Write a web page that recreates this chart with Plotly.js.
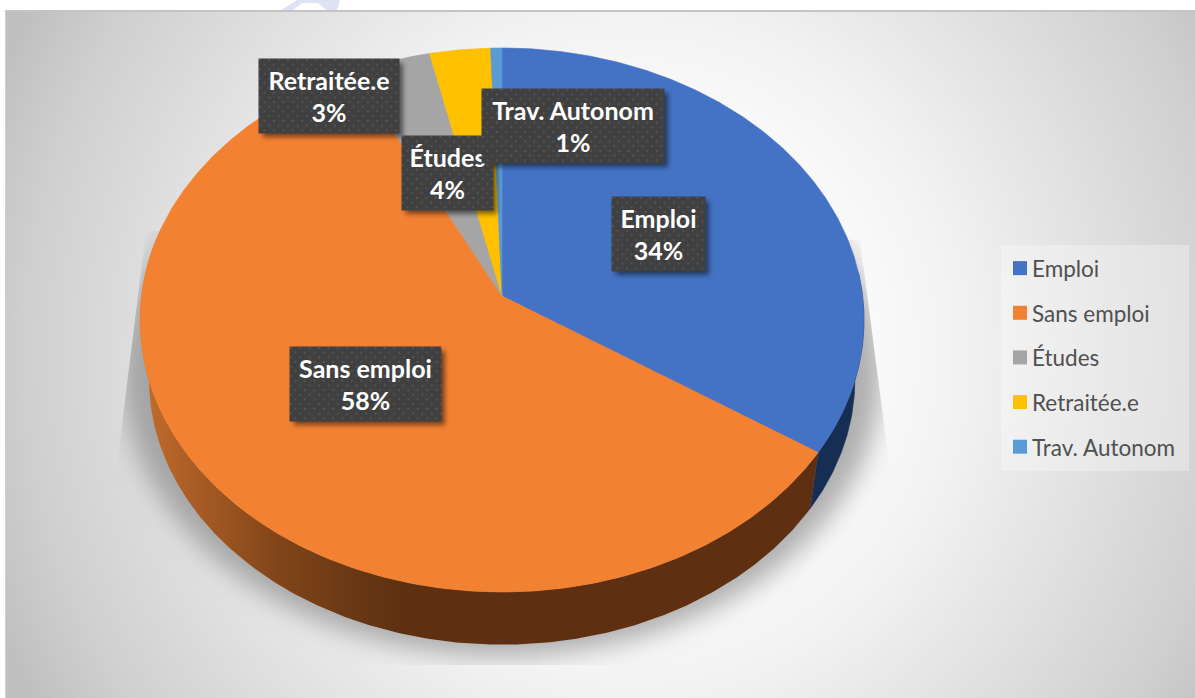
<!DOCTYPE html>
<html>
<head>
<meta charset="utf-8">
<script src="https://cdn.plot.ly/plotly-3.0.1.min.js"></script>
<style>
html,body{margin:0;padding:0;width:1195px;height:698px;background:#fff;overflow:hidden}
#bg{position:absolute;left:5px;top:10px;width:1190px;height:688px;box-sizing:border-box;border-top:2px solid #c4c4c4;border-left:1px solid #cfcfcf;
background:radial-gradient(ellipse 690px 710px at 625px 340px,#fff 0%,#fff 26%,#f2f2f2 48%,#dfdfdf 70%,#cfcfcf 88%,#bfbfbf 100%)}
#chart{position:absolute;left:0;top:0;width:1195px;height:698px}
</style>
</head>
<body>
<div id="bg"></div>
<div id="chart"></div>
<script>
// Data
const categories = ['Emploi', 'Sans emploi', 'Études', 'Retraitée.e', 'Trav. Autonom'];
const shares = [34.3, 58.4, 3.8, 2.95, 0.55];
const sliceColors = ['#4472C4', '#F38132', '#A5A5A5', '#FFC000', '#5B9BD5'];

// Label boxes in chart pixels: left, top, right, bottom
const boxLeft   = [612, 290, 402, 259, 482];
const boxTop    = [197, 347, 136, 59, 89];
const boxRight  = [705, 441, 493, 399, 664];
const boxBottom = [271, 421, 210, 133, 163];

// Projection of the tilted disc
const apexX = 502, apexY = 296, scaleU = 360.6, scaleV = 269.9, persp = 0.0882;
const wallDrop = 60, wallShrink = 0.975;
const W = 1195, H = 698;

function project(deg, bottom) {
  const t = deg * Math.PI / 180, u = Math.sin(t), v = Math.cos(t), w = 1 + persp * v;
  const x = scaleU * u / w, y = -scaleV * v / w;
  return bottom ? [apexX + wallShrink * x, apexY + wallDrop + wallShrink * y] : [apexX + x, apexY + y];
}
function arc(a, b, bottom) {
  const pts = [], n = Math.max(2, Math.ceil(Math.abs(b - a) * 2));
  for (let i = 0; i <= n; i++) pts.push(project(a + (b - a) * i / n, bottom));
  return pts;
}
function polyTrace(pts, extra) {
  return Object.assign({
    type: 'scatter', mode: 'lines', x: pts.map(p => p[0]), y: pts.map(p => p[1]),
    fill: 'toself', showlegend: false, hoverinfo: 'skip', line: {width: 0}
  }, extra);
}

const total = shares.reduce((a, b) => a + b, 0);
const edges = [0];
shares.forEach(s => edges.push(edges[edges.length - 1] + s / total * 360));

const traces = [];
// side wall: blue part, then orange part
traces.push(polyTrace(arc(85, edges[1], false).concat(arc(edges[1], 85, true)), {fillcolor: '#172E54', line: {width: 0.5, color: '#172E54'}}));
traces.push(polyTrace(arc(edges[1], 285, false).concat(arc(285, edges[1], true)), {
  fillcolor: '#5E3011',
  fillgradient: {type: 'horizontal', start: 141, stop: 820, colorscale: [
    [0, '#C26C2C'], [0.09, '#A65A24'], [0.2, '#824519'], [0.3, '#6B3915'], [0.39, '#5E3011'], [1, '#5E3011']
  ]}
}));
// top faces
shares.forEach((s, i) => {
  const pts = [[apexX, apexY]].concat(arc(edges[i], edges[i + 1], false));
  pts.push([apexX, apexY]);
  traces.push(polyTrace(pts, {fillcolor: sliceColors[i], line: {width: 0.6, color: sliceColors[i]}}));
});
// legend entries
categories.forEach((c, i) => {
  traces.push({
    type: 'scatter', mode: 'markers', x: [null], y: [null], name: c, legendgroup: 'g' + i,
    marker: {symbol: 'square', size: 14, color: sliceColors[i]}, hoverinfo: 'skip'
  });
});

// annotations: the coloured box belongs to the annotation so later ones cover earlier ones
const annotations = categories.map((c, i) => ({
  xref: 'x', yref: 'y',
  x: (boxLeft[i] + boxRight[i]) / 2, y: (boxTop[i] + boxBottom[i]) / 2,
  xanchor: 'center', yanchor: 'middle', showarrow: false,
  width: boxRight[i] - boxLeft[i], height: boxBottom[i] - boxTop[i],
  bgcolor: '#404040', borderpad: 0, align: 'center', valign: 'middle',
  text: c + '<br>' + Math.round(shares[i]) + '%',
  font: {family: 'Lato, sans-serif', size: 25, color: '#FFFFFF', weight: 700}
}));

function svgUri(body) {
  return 'data:image/svg+xml;charset=utf-8,' + encodeURIComponent(
    '<svg xmlns="http://www.w3.org/2000/svg" width="' + W + '" height="' + H + '" viewBox="0 0 ' + W + ' ' + H + '">' + body + '</svg>');
}
const discShadow = svgUri(
  '<defs><filter id="b" x="-20%" y="-20%" width="140%" height="140%"><feGaussianBlur stdDeviation="13"/></filter>' +
  '<clipPath id="c"><polygon points="146,231 115,481 115,665 892,665 892,485 860,240"/></clipPath></defs>' +
  '<g clip-path="url(#c)"><ellipse cx="502" cy="372" rx="380" ry="284" fill="#808080" fill-opacity="0.62" filter="url(#b)"/></g>');
const boxShadow = svgUri(
  '<defs><filter id="s" x="-20%" y="-20%" width="140%" height="140%"><feGaussianBlur stdDeviation="2.5"/></filter></defs>' +
  categories.map((c, i) => '<rect x="' + (boxLeft[i] + 4) + '" y="' + (boxTop[i] + 4) + '" width="' + (boxRight[i] - boxLeft[i]) +
    '" height="' + (boxBottom[i] - boxTop[i]) + '" fill="#000" fill-opacity="0.5" filter="url(#s)"/>').join(''));

const layout = {
  width: W, height: H, autosize: false,
  margin: {l: 0, r: 0, t: 0, b: 0, pad: 0},
  paper_bgcolor: 'rgba(0,0,0,0)', plot_bgcolor: 'rgba(0,0,0,0)',
  xaxis: {range: [0, W], visible: false, fixedrange: true},
  yaxis: {range: [H, 0], visible: false, fixedrange: true},
  images: [
    {source: discShadow, xref: 'paper', yref: 'paper', x: 0, y: 1, sizex: 1, sizey: 1, xanchor: 'left', yanchor: 'top', sizing: 'stretch', layer: 'below'},
    {source: boxShadow, xref: 'paper', yref: 'paper', x: 0, y: 1, sizex: 1, sizey: 1, xanchor: 'left', yanchor: 'top', sizing: 'stretch', layer: 'above'}
  ],
  shapes: [
    {type: 'rect', xref: 'x', yref: 'y', x0: 1001, x1: 1189, y0: 245, y1: 471, fillcolor: 'rgba(255,255,255,0.3)', line: {width: 0}, layer: 'below'},
    {type: 'path', xref: 'x', yref: 'y', path: 'M 281 10 L 297 0 L 340 0 L 337 10 L 326 10 L 318 3 L 302 3 L 293 10 Z', fillcolor: '#DDE3F5', line: {width: 0}, layer: 'below'}
  ],
  annotations: annotations,
  showlegend: true,
  legend: {
    x: 992 / W, y: 1 - 247 / H, xanchor: 'left', yanchor: 'top',
    bgcolor: 'rgba(0,0,0,0)', borderwidth: 0, traceorder: 'grouped', tracegroupgap: 12.4,
    font: {family: 'Lato, sans-serif', size: 22.5, color: '#505050'}, itemclick: false, itemdoubleclick: false
  },
  hovermode: false
};

Plotly.newPlot('chart', traces, layout, {displayModeBar: false, staticPlot: false, responsive: false}).then(gd => {
  const svg = gd.querySelector('svg.main-svg');
  const ns = 'http://www.w3.org/2000/svg';
  const defs = document.createElementNS(ns, 'defs');
  defs.innerHTML = '<pattern id="dots" width="9.4" height="9.4" patternUnits="userSpaceOnUse">' +
    '<rect width="9.4" height="9.4" fill="#404040"/>' +
    '<rect x="1" y="1" width="1.6" height="1.6" fill="#5c5c5c"/><rect x="5.7" y="5.7" width="1.6" height="1.6" fill="#5c5c5c"/></pattern>';
  svg.insertBefore(defs, svg.firstChild);
  gd.querySelectorAll('.annotation rect.bg').forEach(r => { r.style.fill = 'url(#dots)'; });
  gd.querySelectorAll('.legend .legendpoints').forEach(g => { g.setAttribute('transform', 'translate(8,0)'); });
});
</script>
</body>
</html>
